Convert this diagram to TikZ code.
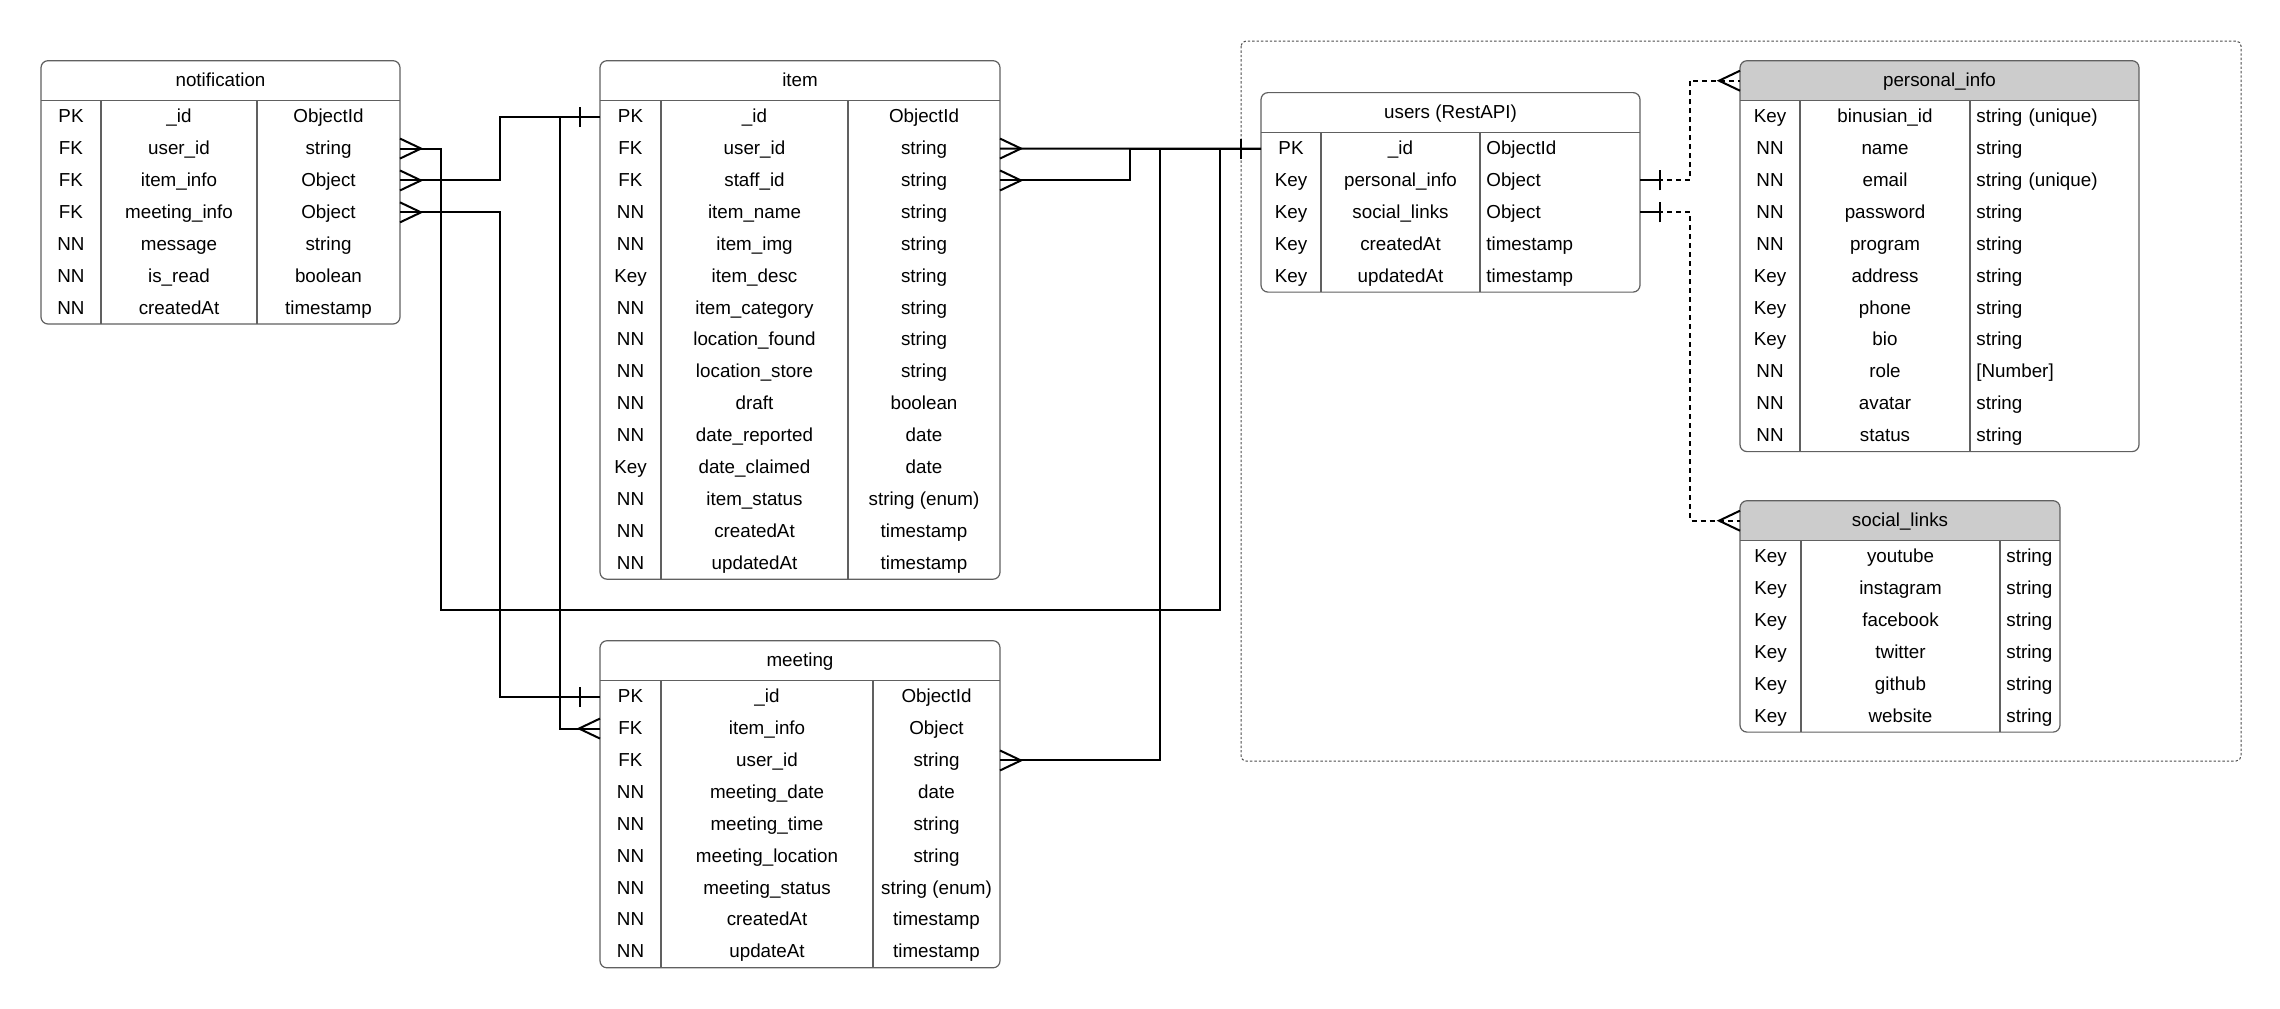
\documentclass[tikz,border=0pt]{standalone}
\usepackage{fontspec}
\setmainfont{Liberation Sans}
\usetikzlibrary{positioning,matrix,calc,decorations.markings}
\pgfdeclarelayer{bg}
\pgfsetlayers{bg,main}

\definecolor{headgray}{RGB}{204,204,204}
\definecolor{linegray}{RGB}{96,96,96}
\newcommand{\erfont}{\fontsize{9.4}{11}\selectfont}

\tikzstyle{ertable} = [matrix of nodes, inner sep=0pt, outer sep=0pt, row sep=0pt, column sep=0pt, nodes={inner sep=0pt, outer sep=0pt, minimum height=15.95pt, text height=7.4pt, text depth=1.4pt, font=\erfont}]
\tikzstyle{erhead} = [inner sep=0pt, outer sep=0pt, minimum height=20pt, text height=7.4pt, text depth=1.4pt, font=\erfont]
\tikzstyle{frame} = [draw=linegray, line width=0.6pt]
\tikzstyle{rel} = [draw, line width=1pt]
\tikzstyle{optrel} = [rel, dash pattern=on 2.5pt off 2pt]
\tikzstyle{container} = [draw=black!70, line width=0.5pt, dash pattern=on 1.2pt off 1pt, rounded corners=2.5pt]

\tikzset{
  ercols/.style n args={3}{column 1/.style={nodes={minimum width=#1}}, column 2/.style={nodes={minimum width=#2}}, column 3/.style={nodes={minimum width=#3}}},
  ercolsleft/.style n args={3}{column 1/.style={nodes={minimum width=#1}}, column 2/.style={nodes={minimum width=#2}}, column 3/.style={nodes={text width=#3, align=left, inner xsep=3.2pt}}},
  crow start/.style={postaction={decorate, decoration={markings, mark=at position 0 with {\draw[solid, line width=1pt] (0,10) -- (21,0) -- (0,-10);}}}},
  crow end/.style={postaction={decorate, decoration={markings, mark=at position 1 with {\draw[solid, line width=1pt] (0,10) -- (-21,0) -- (0,-10);}}}},
  one start/.style={postaction={decorate, decoration={markings, mark=at position 0 with {\draw[solid, line width=1pt] (0,0) -- (20,0) (20,10) -- (20,-10);}}}},
  one end/.style={postaction={decorate, decoration={markings, mark=at position 1 with {\draw[solid, line width=1pt] (0,0) -- (-20,0) (-20,10) -- (-20,-10);}}}}
}

% frame, header line and column rules of one table
\newcommand{\erframe}[3]{%
  \begin{pgfonlayer}{bg}
    \fill[#3, rounded corners=3.5pt] (#1-head.north west) rectangle (#1-head.south east);
    \fill[#3] (#1-head.west) rectangle (#1-head.south east);
  \end{pgfonlayer}
  \draw[frame, rounded corners=3.5pt] (#1-head.north west) rectangle (#1.south east);
  \draw[frame] (#1-head.south west) -- (#1-head.south east);
  \draw[frame] (#1-1-2.north west) -- (#1-#2-2.south west);
  \draw[frame] (#1-1-3.north west) -- (#1-#2-3.south west);
}

\begin{document}
\begin{tikzpicture}[x=0.5pt, y=-0.5pt]
    \useasboundingbox (0,0) rectangle (2280,1008);

    \draw[container] (1241,41) rectangle (2241,761);

    \matrix (notification) [ertable, ercols={30pt}{78pt}{71.5pt}, anchor=north west] at (41,100.7) {
        PK & \_id & ObjectId \\
        FK & user\_id & string \\
        FK & item\_info & Object \\
        FK & meeting\_info & Object \\
        NN & message & string \\
        NN & is\_read & boolean \\
        NN & createdAt & timestamp \\
    };
    \node[erhead, minimum width=179.5pt, above=0pt of notification] (notification-head) {notification};
    \erframe{notification}{7}{white}

    \matrix (item) [ertable, ercols={30.5pt}{93.5pt}{76pt}, anchor=north west] at (600,100.7) {
        PK & \_id & ObjectId \\
        FK & user\_id & string \\
        FK & staff\_id & string \\
        NN & item\_name & string \\
        NN & item\_img & string \\
        Key & item\_desc & string \\
        NN & item\_category & string \\
        NN & location\_found & string \\
        NN & location\_store & string \\
        NN & draft & boolean \\
        NN & date\_reported & date \\
        Key & date\_claimed & date \\
        NN & item\_status & string (enum) \\
        NN & createdAt & timestamp \\
        NN & updatedAt & timestamp \\
    };
    \node[erhead, minimum width=200pt, above=0pt of item] (item-head) {item};
    \erframe{item}{15}{white}

    \matrix (meeting) [ertable, ercols={30.5pt}{106pt}{63.5pt}, anchor=north west] at (600,680.7) {
        PK & \_id & ObjectId \\
        FK & item\_info & Object \\
        FK & user\_id & string \\
        NN & meeting\_date & date \\
        NN & meeting\_time & string \\
        NN & meeting\_location & string \\
        NN & meeting\_status & string (enum) \\
        NN & createdAt & timestamp \\
        NN & updateAt & timestamp \\
    };
    \node[erhead, minimum width=200pt, above=0pt of meeting] (meeting-head) {meeting};
    \erframe{meeting}{9}{white}

    \matrix (users) [ertable, ercolsleft={30pt}{79.5pt}{73.6pt}, anchor=north west] at (1261,132.6) {
        PK & \_id & ObjectId \\
        Key & personal\_info & Object \\
        Key & social\_links & Object \\
        Key & createdAt & timestamp \\
        Key & updatedAt & timestamp \\
    };
    \node[erhead, minimum width=189.5pt, above=0pt of users] (users-head) {users (RestAPI)};
    \erframe{users}{5}{white}

    \matrix (personal) [ertable, ercolsleft={30pt}{85pt}{78.1pt}, anchor=north west] at (1740,100.7) {
        Key & binusian\_id & string (unique) \\
        NN & name & string \\
        NN & email & string (unique) \\
        NN & password & string \\
        NN & program & string \\
        Key & address & string \\
        Key & phone & string \\
        Key & bio & string \\
        NN & role & \mbox{[Number]} \\
        NN & avatar & string \\
        NN & status & string \\
    };
    \node[erhead, minimum width=199.5pt, above=0pt of personal] (personal-head) {personal\_info};
    \erframe{personal}{11}{headgray}

    \matrix (social) [ertable, ercolsleft={30.5pt}{99.5pt}{23.6pt}, anchor=north west] at (1740,540.7) {
        Key & youtube & string \\
        Key & instagram & string \\
        Key & facebook & string \\
        Key & twitter & string \\
        Key & github & string \\
        Key & website & string \\
    };
    \node[erhead, minimum width=160pt, above=0pt of social] (social-head) {social\_links};
    \erframe{social}{6}{headgray}

    % relations
    \draw[rel, crow start, one end] (notification-2-3.east) -- ++(41,0) |- (1220,610) |- (users-1-1.west);
    \draw[rel, crow start, one end] (notification-3-3.east) -- ++(100,0) |- (item-1-1.west);
    \draw[rel, crow start, one end] (notification-4-3.east) -- ++(100,0) |- (meeting-1-1.west);
    \draw[rel, crow start, one end] (meeting-2-1.west) -- ++(-40,0) |- (item-1-1.west);
    \draw[rel, crow start, one end] (item-2-3.east) -- (users-1-1.west);
    \draw[rel, crow start, one end] (item-3-3.east) -- ++(130,0) |- (users-1-1.west);
    \draw[rel, crow start, one end] (meeting-3-3.east) -- ++(160,0) |- (users-1-1.west);

    \draw[optrel, one start, crow end] (users-2-3.east) -- ++(50,0) |- (personal-head.west);
    \draw[optrel, one start, crow end] (users-3-3.east) -- ++(50,0) |- (social-head.west);
\end{tikzpicture}
\end{document}
